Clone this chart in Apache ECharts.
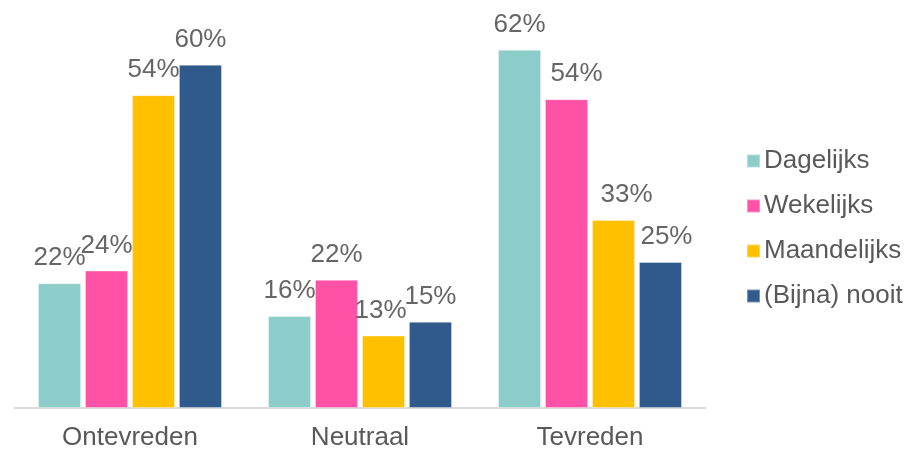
<!DOCTYPE html>
<html>
<head>
<meta charset="utf-8">
<script src="https://cdn.jsdelivr.net/npm/echarts@6/dist/echarts.min.js"></script>
<style>html,body{margin:0;padding:0;background:#fff}#c{width:911px;height:451px}</style>
</head>
<body>
<div id="c"></div>
<script>
const categories = ['Ontevreden', 'Neutraal', 'Tevreden'];
const seriesNames = ['Dagelijks', 'Wekelijks', 'Maandelijks', '(Bijna) nooit'];
const dagelijks = [21.7, 16.0, 62.3];
const wekelijks = [23.9, 22.3, 53.7];
const maandelijks = [54.4, 12.6, 32.7];
const nooit = [59.7, 15.0, 25.4];

const values = [dagelijks, wekelijks, maandelijks, nooit];
const colors = ['#8ccdca', '#ff52a6', '#ffc000', '#2f5a8b'];
// horizontal nudges of data labels (style only), per series per category
const labelShiftX = [[0, 0, 0], [0, 0, 10], [0, -3, 13], [0, 0, 6]];
const textColor = '#595959';
const labelColor = '#666666';
const font = 'Liberation Sans, Arial, sans-serif';

const chart = echarts.init(document.getElementById('c'));
chart.setOption({
  animation: false,
  grid: { left: 15, width: 690, top: 5.5, bottom: 43, containLabel: false },
  legend: {
    orient: 'vertical',
    left: 741,
    top: 143,
    itemWidth: 13,
    itemHeight: 13,
    itemGap: 19,
    icon: 'rect',
    textStyle: { fontSize: 26, color: textColor, fontFamily: font, padding: [0, 0, 0, -1] },
    data: seriesNames
  },
  xAxis: {
    type: 'category',
    data: categories,
    axisLine: { lineStyle: { color: '#d9d9d9', width: 2 } },
    axisTick: { show: false },
    axisLabel: { fontSize: 26, color: textColor, fontFamily: font, margin: 17 }
  },
  yAxis: { type: 'value', min: 0, max: 70, show: false, splitLine: { show: false } },
  series: seriesNames.map((name, i) => ({
    name,
    type: 'bar',
    data: values[i].map((v, j) => ({ value: v, label: { offset: [labelShiftX[i][j], 0] } })),
    barGap: '9%',
    barCategoryGap: '20%',
    itemStyle: { color: colors[i], borderColor: 'rgba(255,255,255,0.35)', borderWidth: 1 },
    label: {
      show: true,
      position: 'top',
      distance: 12,
      fontSize: 26,
      color: labelColor,
      fontFamily: font,
      formatter: p => Math.round(p.value) + '%'
    }
  }))
});
</script>
</body>
</html>
